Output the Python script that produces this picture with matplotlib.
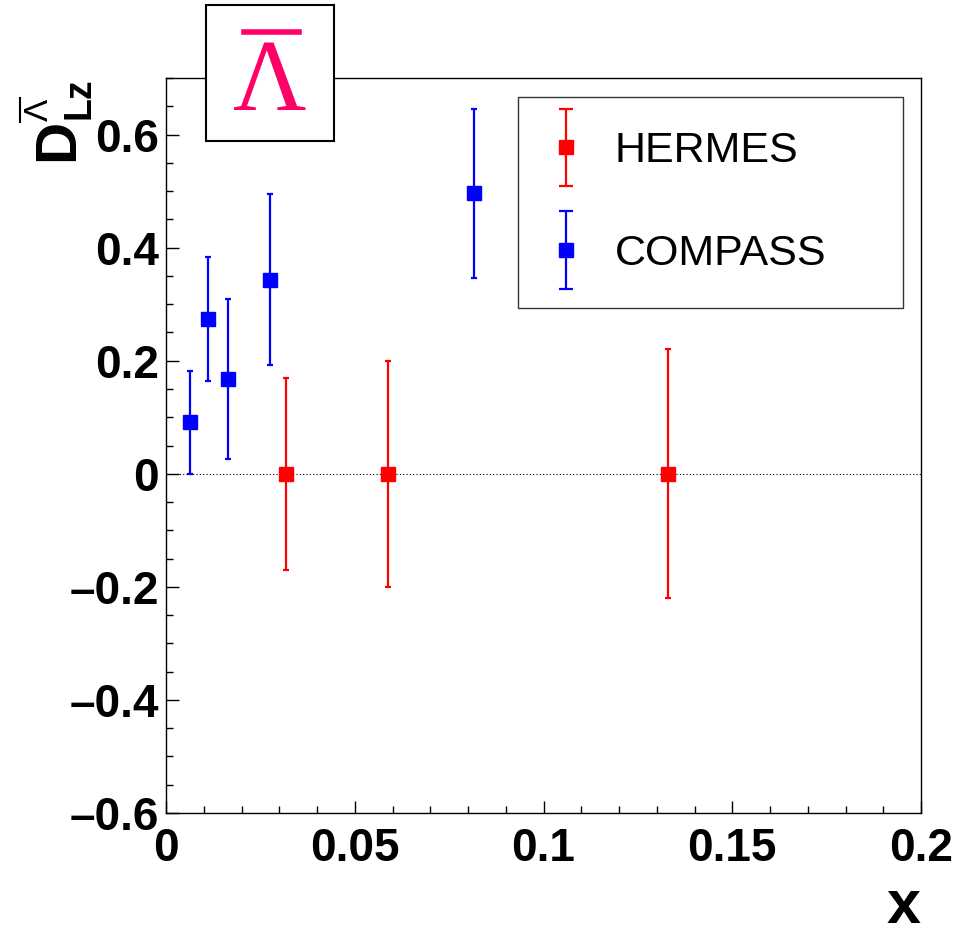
import numpy as np
import matplotlib
matplotlib.use("Agg")
import matplotlib.pyplot as plt
from matplotlib.ticker import MultipleLocator, FuncFormatter
from matplotlib.lines import Line2D
from matplotlib.patches import Rectangle
from matplotlib.legend_handler import HandlerErrorbar

plt.rcParams['font.family'] = ['Liberation Sans', 'DejaVu Sans']

# data
hermes_x = [0.0318, 0.0588, 0.1330]
hermes_y = [0.0, 0.0, 0.0]
hermes_err = [0.17, 0.20, 0.22]

compass_x = [0.0064, 0.0111, 0.0164, 0.0276, 0.0816]
compass_y = [0.091, 0.274, 0.168, 0.343, 0.496]
compass_err = [0.091, 0.110, 0.141, 0.151, 0.150]

W, H = 961, 927
fig = plt.figure(figsize=(W / 100, H / 100), dpi=100)
ax = fig.add_axes([166 / W, 1 - 813 / H, 755 / W, 735 / H])

ax.axhline(0, color='black', lw=0.8, ls=(0, (1, 2)), zorder=1)

h1 = ax.errorbar(hermes_x, hermes_y, yerr=hermes_err, fmt='s', color='#ff0000',
                 ms=9.5, elinewidth=1.6, capsize=2, capthick=1.6, zorder=3)
h2 = ax.errorbar(compass_x, compass_y, yerr=compass_err, fmt='s', color='#0000ff',
                 ms=9.5, elinewidth=1.6, capsize=2, capthick=1.6, zorder=3)

ax.set_xlim(0, 0.2)
ax.set_ylim(-0.6, 0.7)
ax.xaxis.set_major_locator(MultipleLocator(0.05))
ax.xaxis.set_minor_locator(MultipleLocator(0.01))
ax.yaxis.set_major_locator(MultipleLocator(0.2))
ax.yaxis.set_minor_locator(MultipleLocator(0.05))


def fmt(v, pos):
    if abs(v) < 1e-9:
        return '0'
    s = ('%.2f' % abs(v)).rstrip('0')
    return ('\u2013' if v < 0 else '') + s


ax.xaxis.set_major_formatter(FuncFormatter(fmt))
ax.yaxis.set_major_formatter(FuncFormatter(fmt))
ax.tick_params(which='both', direction='in', top=False, right=False)
ax.tick_params(which='major', length=9, width=1, labelsize=33)
ax.tick_params(axis='x', which='major', pad=10)
ax.tick_params(axis='y', which='major', pad=5)
ax.tick_params(which='minor', length=5, width=1)
for lab in ax.get_xticklabels() + ax.get_yticklabels():
    lab.set_fontweight('bold')
for sp in ax.spines.values():
    sp.set_linewidth(1)

# x axis title
fig.text(921 / W, 1 - 923 / H, 'x', fontsize=44, fontweight='bold',
         ha='right', va='baseline')

# y axis title  D^{anti-Lambda}_{Lz}, rotated
fig.text(73 / W, 1 - 140 / H, 'D', fontsize=42, fontweight='bold', rotation=90,
         rotation_mode='anchor', ha='center', va='baseline')
fig.text(90 / W, 1 - 98 / H, 'Lz', fontsize=27, fontweight='bold', rotation=90,
         rotation_mode='anchor', ha='center', va='baseline')
fig.text(48 / W, 1 - 110 / H, '\u039b', fontsize=24, rotation=90,
         rotation_mode='anchor', ha='center', va='baseline')
fig.lines.append(Line2D([20 / W, 20 / W], [1 - 98 / H, 1 - 122 / H],
                        transform=fig.transFigure, color='black', lw=1.5))

leg = ax.legend([h1, h2], ['HERMES', 'COMPASS'], loc='upper left',
                bbox_to_anchor=(518 / W, 1 - 305 / H, 385 / W, 208 / H),
                bbox_transform=fig.transFigure, mode='expand',
                fontsize=31, frameon=True, fancybox=False, borderpad=0.8,
                labelspacing=1.45, handletextpad=0.8, handlelength=0.65,
                borderaxespad=0,
                handler_map={type(h1): HandlerErrorbar(yerr_size=0.9)})
leg.get_frame().set_edgecolor('black')
leg.get_frame().set_linewidth(1)
for ln in leg.findobj(Line2D):
    if ln.get_marker() == '_':
        ln.set_markersize(10)
        ln.set_markeredgewidth(1.6)

# title box with anti-lambda
fig.patches.append(Rectangle((206 / W, 1 - 141 / H), 128 / W, 136 / H,
                             transform=fig.transFigure, facecolor='white',
                             edgecolor='black', lw=1.5, zorder=5))
fig.text(269.5 / W, 1 - 110 / H, '\u039b', family='Liberation Serif',
         fontsize=73, color='#ff0066', ha='center', va='baseline', zorder=6)
fig.lines.append(Line2D([244 / W, 299 / W], [1 - 32 / H, 1 - 32 / H],
                        transform=fig.transFigure, color='#ff0066', lw=4, zorder=6))

fig.savefig('out.png', dpi=100)
